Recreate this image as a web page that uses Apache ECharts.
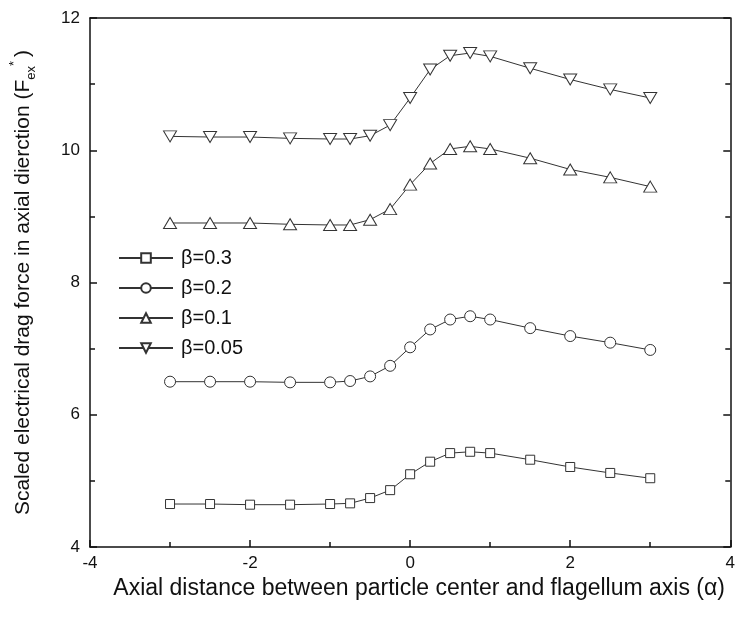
<!DOCTYPE html>
<html>
<head>
<meta charset="utf-8">
<script src="https://cdn.jsdelivr.net/npm/echarts@6/dist/echarts.min.js"></script>
<style>
html,body{margin:0;padding:0;background:#fff;}
#chart{width:738px;height:618px;}
</style>
</head>
<body>
<div id="chart"></div>
<script>
// Axial distance values (x)
const xValues = [-3, -2.5, -2, -1.5, -1, -0.75, -0.5, -0.25, 0, 0.25, 0.5, 0.75, 1, 1.5, 2, 2.5, 3];
// Series names
const seriesNames = ['β=0.3', 'β=0.2', 'β=0.1', 'β=0.05'];
// Scaled electrical drag force values
const beta03 = [4.65, 4.65, 4.64, 4.64, 4.65, 4.66, 4.74, 4.86, 5.10, 5.29, 5.42, 5.44, 5.42, 5.32, 5.21, 5.12, 5.04];
const beta02 = [6.50, 6.50, 6.50, 6.49, 6.49, 6.51, 6.58, 6.74, 7.02, 7.29, 7.44, 7.49, 7.44, 7.31, 7.19, 7.09, 6.98];
const beta01 = [8.90, 8.90, 8.90, 8.88, 8.87, 8.87, 8.95, 9.11, 9.48, 9.80, 10.02, 10.06, 10.02, 9.88, 9.71, 9.59, 9.45];
const beta005 = [10.21, 10.20, 10.20, 10.18, 10.17, 10.17, 10.22, 10.38, 10.79, 11.22, 11.43, 11.47, 11.42, 11.24, 11.07, 10.92, 10.79];

const seriesData = [beta03, beta02, beta01, beta005];
const symbols = ['rect', 'circle', 'triangle', 'triangle'];
const symbolSizes = [[9, 9], 11, [13, 11], [13, 11]];
const rotations = [0, 0, 0, 180];

const FONT = 'Liberation Sans, Arial, sans-serif';
const INK = '#111';

const chart = echarts.init(document.getElementById('chart'), null, {renderer: 'canvas'});

const series = seriesNames.map((name, i) => ({
  name: name,
  type: 'line',
  xAxisIndex: 0,
  yAxisIndex: 0,
  data: xValues.map((x, j) => [x, seriesData[i][j]]),
  symbol: symbols[i],
  symbolSize: symbolSizes[i],
  symbolRotate: rotations[i],
  showAllSymbol: true,
  lineStyle: {color: '#333', width: 1},
  itemStyle: {color: '#fff', borderColor: '#333', borderWidth: 1},
  emphasis: {disabled: true},
  animation: false,
  z: 3
}));

const tickCommon = {
  axisTick: {show: true, inside: true, length: 7, lineStyle: {color: INK, width: 1.5}},
  minorTick: {show: true, splitNumber: 2, length: 5, lineStyle: {color: INK, width: 1.5}},
  splitLine: {show: false}
};

const option = {
  backgroundColor: '#fff',
  animation: false,
  grid: {left: 85, right: 3, top: 18, bottom: 71, containLabel: false},
  legend: {
    orient: 'vertical',
    left: 113,
    top: 243,
    itemWidth: 54,
    itemHeight: 12,
    itemGap: 10,
    textStyle: {fontFamily: FONT, fontSize: 20, color: INK, padding: [0, 0, 0, 3]},
    data: seriesNames
  },
  xAxis: [Object.assign({
    type: 'value',
    min: -4, max: 4, interval: 2,
    position: 'bottom',
    axisLine: {show: true, onZero: false, lineStyle: {color: INK, width: 1.5}},
    axisLabel: {fontFamily: FONT, fontSize: 17, color: INK, margin: 8},
    name: 'Axial distance between particle center and flagellum axis (α)',
    nameLocation: 'middle',
    nameGap: 23,
    nameTextStyle: {fontFamily: FONT, fontSize: 23, color: INK, padding: [0, 0, 0, 18]}
  }, tickCommon), {
    type: 'value',
    min: -4, max: 4, interval: 2,
    position: 'top',
    axisLine: {show: true, onZero: false, lineStyle: {color: INK, width: 1.5}},
    axisTick: {show: false},
    axisLabel: {show: false},
    splitLine: {show: false}
  }],
  yAxis: [Object.assign({
    type: 'value',
    min: 4, max: 12, interval: 2,
    position: 'left',
    axisLine: {show: true, onZero: false, lineStyle: {color: INK, width: 1.5}},
    axisLabel: {fontFamily: FONT, fontSize: 17, color: INK, margin: 10},
    name: '{m|Scaled electrical drag force in axial dierction (F}{sub|ex}{sup|*}{m|)}',
    nameLocation: 'middle',
    nameGap: 52,
    nameTextStyle: {
      fontFamily: FONT, fontSize: 21, color: INK,
      rich: {
        m: {fontFamily: FONT, fontSize: 21, color: INK, lineHeight: 30, verticalAlign: 'middle'},
        sub: {fontFamily: FONT, fontSize: 13, color: INK, lineHeight: 30, verticalAlign: 'bottom'},
        sup: {fontFamily: FONT, fontSize: 13, color: INK, lineHeight: 30, verticalAlign: 'top', padding: [0, 4, 0, 0]}
      }
    }
  }, tickCommon), Object.assign({
    type: 'value',
    min: 4, max: 12, interval: 2,
    position: 'right',
    axisLine: {show: true, onZero: false, lineStyle: {color: INK, width: 1.5}},
    axisLabel: {show: false}
  }, tickCommon)],
  series: series
};

chart.setOption(option);
</script>
</body>
</html>
